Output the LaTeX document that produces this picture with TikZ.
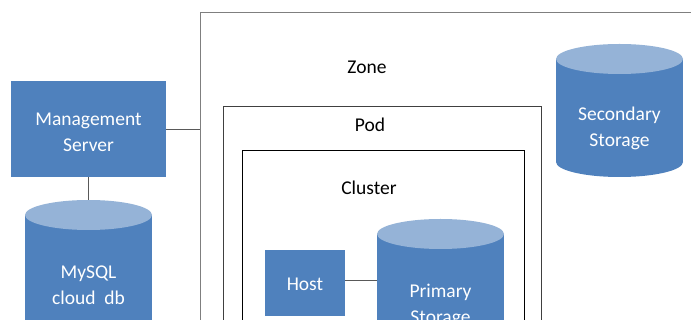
\documentclass[tikz,border=0pt]{standalone}
\usepackage{fontspec}
\setmainfont{Carlito}
\definecolor{cblue}{HTML}{4F81BD}
\definecolor{ctop}{HTML}{95B3D7}
\definecolor{zoneline}{HTML}{7F7F7F}
\definecolor{conn}{HTML}{595959}
\begin{document}
\begin{tikzpicture}[x=1pt,y=-1pt,
  lbl/.style={font=\fontsize{19.5}{26}\selectfont, align=center, inner sep=0pt},
  wlbl/.style={lbl, text=white},
  bluebox/.style={fill=cblue, draw=none, inner sep=0pt, wlbl},
  frame/.style={draw, fill=none, inner sep=0pt, anchor=north west},
  connector/.style={draw=conn, line width=1.3pt}]
\useasboundingbox (0,0) rectangle (691,320);
\clip (0,0) rectangle (691,320);
\fill[white] (0,0) rectangle (691,320);
% frames
\node[frame, draw=zoneline, line width=1.3pt, minimum width=520, minimum height=340] (zone) at (200,12) {};
\node[frame, draw=black!75, line width=1pt, minimum width=318, minimum height=240] (pod) at (223,106) {};
\node[frame, draw=black, line width=1pt, minimum width=282, minimum height=200] (cluster) at (242,150) {};
\node[lbl] (zonelbl) at (367,67) {Zone};
\node[lbl] (podlbl) at (370,125) {Pod};
\node[lbl] (clusterlbl) at (369,188) {Cluster};
% cylinders
\def\cyl#1#2#3{% xl, top, bottom
  \fill[cblue] (#1,#2+15) rectangle (#1+127,#3-15);
  \fill[cblue] (#1+63.5,#3-15) ellipse (63.5 and 15);
  \fill[ctop] (#1+63.5,#2+15) ellipse (63.5 and 15);
}
\cyl{25}{200}{360}
\cyl{556}{44}{177}
\cyl{377}{219}{380}
% boxes
\node[bluebox, minimum width=155, minimum height=96, anchor=north west] (ms) at (11,81) {};
\node[wlbl] (mstext) at (88.5,132) {Management\\Server};
\node[bluebox, minimum width=80, minimum height=66, anchor=north west] (host) at (265,250) {};
\node[wlbl] (hosttext) at (305,284) {Host};
% cylinder label nodes
\node[wlbl] (mysql) at (88.5,285) {MySQL\\cloud\ \ db};
\node[wlbl] (sec) at (619.5,128) {Secondary\\Storage};
\node[wlbl, minimum width=127] (prim) at (440.5,305) {Primary\\Storage};
% connectors
\draw[connector] (ms.east) -- (ms.east -| zone.west);
\draw[connector] (ms.south) -- (ms.south |- 0,200);
\draw[connector, line width=1pt] (host.east |- 0,281) -- (prim.west |- 0,281);
\end{tikzpicture}
\end{document}
